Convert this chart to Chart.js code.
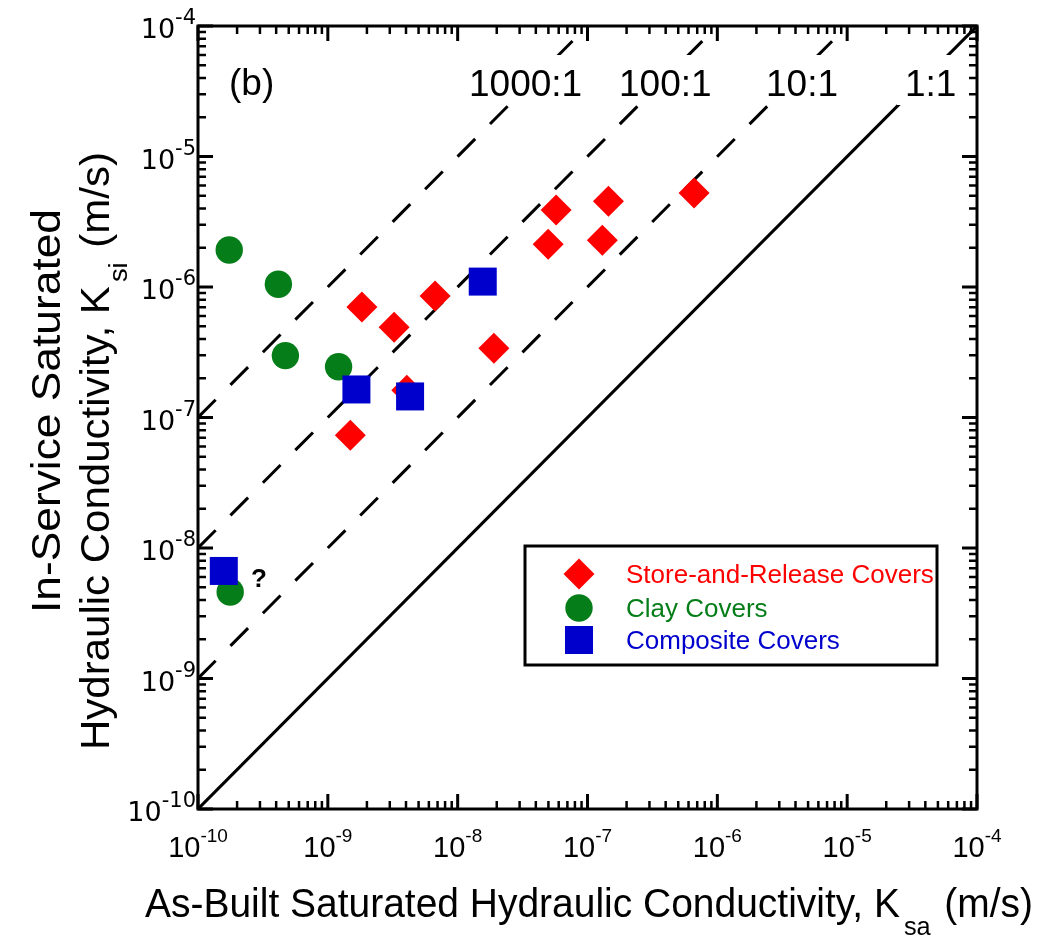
<!DOCTYPE html>
<html><head><meta charset="utf-8">
<script src="https://cdn.jsdelivr.net/npm/chart.js@4.4.1/dist/chart.umd.min.js"></script>
<style>html,body{margin:0;padding:0;background:#fff;}#wrap{position:relative;width:1037px;height:939px;}</style>
</head><body><div id="wrap"><canvas id="c" width="1037" height="939"></canvas></div>
<script>
// ---- data ----
const storeReleaseKsa = [1.83e-9, 3.24e-9, 6.70e-9, 1.90e-8, 4.98e-8, 5.73e-8, 1.45e-7, 1.30e-7, 6.62e-7, 1.49e-9, 4.06e-9];
const storeReleaseKsi = [7.03e-7, 4.91e-7, 8.53e-7, 3.39e-7, 2.13e-6, 3.89e-6, 4.54e-6, 2.28e-6, 5.25e-6, 7.30e-8, 1.62e-7];
const clayKsa = [1.74e-10, 4.16e-10, 4.71e-10, 1.21e-9, 1.77e-10];
const clayKsi = [1.92e-6, 1.05e-6, 2.98e-7, 2.45e-7, 4.60e-9];
const compositeKsa = [1.56e-8, 1.66e-9, 4.30e-9, 1.58e-10];
const compositeKsi = [1.10e-6, 1.64e-7, 1.45e-7, 6.67e-9];
const ratioLabels = ['1000:1', '100:1', '10:1', '1:1'];
const ratios = [1000, 100, 10, 1];
const decadeExponents = [-10, -9, -8, -7, -6, -5, -4];
const seriesNames = ['Store-and-Release Covers', 'Clay Covers', 'Composite Covers'];
const axisMin = 1e-10, axisMax = 1e-4;

const RED = '#ff0000', GREEN = '#057d18', BLUE = '#0000cc';
const FONT = '"Liberation Sans", Arial, Helvetica, sans-serif';

function pts(xs, ys) { return xs.map((x, i) => ({ x: x, y: ys[i] })); }

const ratioDatasets = ratios.map((r, i) => ({
  label: ratioLabels[i],
  data: [{ x: axisMin, y: axisMin * r }, { x: axisMax / r, y: axisMax }],
  showLine: true, pointRadius: 0, borderColor: '#000', borderWidth: 3,
  borderDash: r === 1 ? [] : [25, 21], borderCapStyle: 'butt', order: 3, fill: false
}));

const datasets = [
  { label: seriesNames[2], data: pts(compositeKsa, compositeKsi), pointStyle: 'rect', pointRadius: 19.8,
    backgroundColor: BLUE, borderColor: BLUE, borderWidth: 0, order: 0 },
  { label: seriesNames[0], data: pts(storeReleaseKsa, storeReleaseKsi), pointStyle: 'rectRot', pointRadius: 15.5,
    backgroundColor: RED, borderColor: RED, borderWidth: 0, order: 1 },
  { label: seriesNames[1], data: pts(clayKsa, clayKsi), pointStyle: 'circle', pointRadius: 13.7,
    backgroundColor: GREEN, borderColor: GREEN, borderWidth: 0, order: 2 },
  ...ratioDatasets
];

function fitText(ctx, parts, x, y, targetW, sy) {
  let w = 0;
  parts.forEach(p => { ctx.font = p.font; p.w = ctx.measureText(p.t).width; w += p.w + (p.gap || 0); });
  const sx = targetW ? targetW / w : 1;
  ctx.save(); ctx.translate(x, y); ctx.scale(sx, sy || 1);
  let cx = 0;
  parts.forEach(p => { ctx.font = p.font; ctx.fillText(p.t, cx, p.dy || 0); cx += p.w + (p.gap || 0); });
  ctx.restore();
}

function powerWidth(ctx, exp, bf, sf) {
  ctx.font = bf; const a = ctx.measureText('10').width;
  ctx.font = sf; const b = ctx.measureText(String(exp)).width;
  return [a, b];
}

const decor = {
  id: 'decor',
  afterDatasetsDraw(chart) {
    const ctx = chart.ctx, ca = chart.chartArea;
    const xs = chart.scales.x, ys = chart.scales.y;
    ctx.save();
    ctx.strokeStyle = '#000'; ctx.fillStyle = '#000';
    ctx.textBaseline = 'alphabetic'; ctx.textAlign = 'left';

    // in-plot ratio labels on white boxes (they interrupt the lines)
    ctx.font = '37px ' + FONT;
    const lblX = [469, 619, 766, 905];
    ratioLabels.forEach((s, i) => {
      const w = ctx.measureText(s).width;
      ctx.fillStyle = '#fff';
      ctx.fillRect(lblX[i] - 8, 55, w + 16, 50);
      ctx.fillStyle = '#000';
      ctx.fillText(s, lblX[i], 96);
    });
    ctx.fillText('(b)', 229, 95);

    // ticks (inward, all four sides)
    decadeExponents.forEach((e, i) => {
      const vals = [{ v: Math.pow(10, e), major: true }];
      if (i < decadeExponents.length - 1) for (let k = 2; k <= 9; k++) vals.push({ v: k * Math.pow(10, e), major: false });
      vals.forEach(t => {
        const len = t.major ? 15 : 8;
        ctx.lineWidth = t.major ? 3 : 2.5;
        const px = xs.getPixelForValue(t.v), py = ys.getPixelForValue(t.v);
        ctx.beginPath();
        ctx.moveTo(px, ca.bottom); ctx.lineTo(px, ca.bottom - len);
        ctx.moveTo(px, ca.top); ctx.lineTo(px, ca.top + len);
        ctx.moveTo(ca.left, py); ctx.lineTo(ca.left + len, py);
        ctx.moveTo(ca.right, py); ctx.lineTo(ca.right - len, py);
        ctx.stroke();
      });
    });
    // frame
    ctx.lineWidth = 3;
    ctx.strokeRect(ca.left, ca.top, ca.right - ca.left, ca.bottom - ca.top);

    // x tick labels
    const xbf = '29px ' + FONT, xsf = '19px ' + FONT;
    decadeExponents.forEach(e => {
      const px = xs.getPixelForValue(Math.pow(10, e));
      const [a, b] = powerWidth(ctx, e, xbf, xsf);
      const x0 = px - (a + b) / 2;
      ctx.font = xbf; ctx.fillText('10', x0, 857);
      ctx.font = xsf; ctx.fillText(String(e), x0 + a, 842);
    });
    // y tick labels
    const ybf = '27px "DejaVu Sans", sans-serif', ysf = '21px "DejaVu Sans", sans-serif';
    decadeExponents.forEach(e => {
      const py = ys.getPixelForValue(Math.pow(10, e));
      const [a, b] = powerWidth(ctx, e, ybf, ysf);
      const x0 = 196 - a - b;
      ctx.font = ybf; ctx.fillText('10', x0, py + 12);
      ctx.font = ysf; ctx.fillText(String(e), x0 + a, py - 2);
    });

    // x axis title
    fitText(ctx, [
      { t: 'As-Built Saturated Hydraulic Conductivity, K', font: '40px ' + FONT, gap: 4 },
      { t: 'sa', font: '26px ' + FONT, dy: 18, gap: 14 },
      { t: '(m/s)', font: '40px ' + FONT }
    ], 145, 917, 888);

    // y axis title (rotated)
    ctx.save();
    ctx.translate(60, 613); ctx.rotate(-Math.PI / 2);
    fitText(ctx, [{ t: 'In-Service Saturated', font: '40px ' + FONT }], 0, 0, 404);
    ctx.restore();
    ctx.save();
    ctx.translate(109, 750); ctx.rotate(-Math.PI / 2);
    fitText(ctx, [
      { t: 'Hydraulic Conductivity, K', font: '40px ' + FONT, gap: 4 },
      { t: 'si', font: '26px ' + FONT, dy: 18, gap: 14 },
      { t: '(m/s)', font: '40px ' + FONT }
    ], 0, 0, 598);
    ctx.restore();

    ctx.font = 'bold 26px ' + FONT; ctx.fillStyle = '#000';
    ctx.fillText('?', 251, 587);

    // legend
    ctx.lineWidth = 3; ctx.strokeStyle = '#000';
    ctx.fillStyle = '#fff';
    ctx.fillRect(525, 546, 412, 119);
    ctx.strokeRect(525, 546, 412, 119);
    const lg = [
      { name: seriesNames[0], color: RED, style: 'rectRot', r: 15.5, y: 574 },
      { name: seriesNames[1], color: GREEN, style: 'circle', r: 13.7, y: 608 },
      { name: seriesNames[2], color: BLUE, style: 'rect', r: 19.8, y: 640 }
    ];
    lg.forEach(item => {
      ctx.fillStyle = item.color;
      Chart.helpers.drawPoint(ctx, { pointStyle: item.style, radius: item.r, rotation: 0, borderWidth: 0 }, 579, item.y);
      ctx.fillStyle = item.color;
      ctx.font = '26px ' + FONT;
      ctx.fillText(item.name, 626, item.y + 9);
    });
    ctx.restore();
  }
};

new Chart(document.getElementById('c'), {
  type: 'scatter',
  data: { datasets: datasets },
  options: {
    responsive: false, animation: false, devicePixelRatio: 1,
    layout: { padding: { left: 198, top: 26, right: 60, bottom: 130 } },
    plugins: { legend: { display: false }, tooltip: { enabled: false } },
    scales: {
      x: { type: 'logarithmic', min: axisMin, max: axisMax, display: false },
      y: { type: 'logarithmic', min: axisMin, max: axisMax, display: false }
    }
  },
  plugins: [decor]
});
</script></body></html>
